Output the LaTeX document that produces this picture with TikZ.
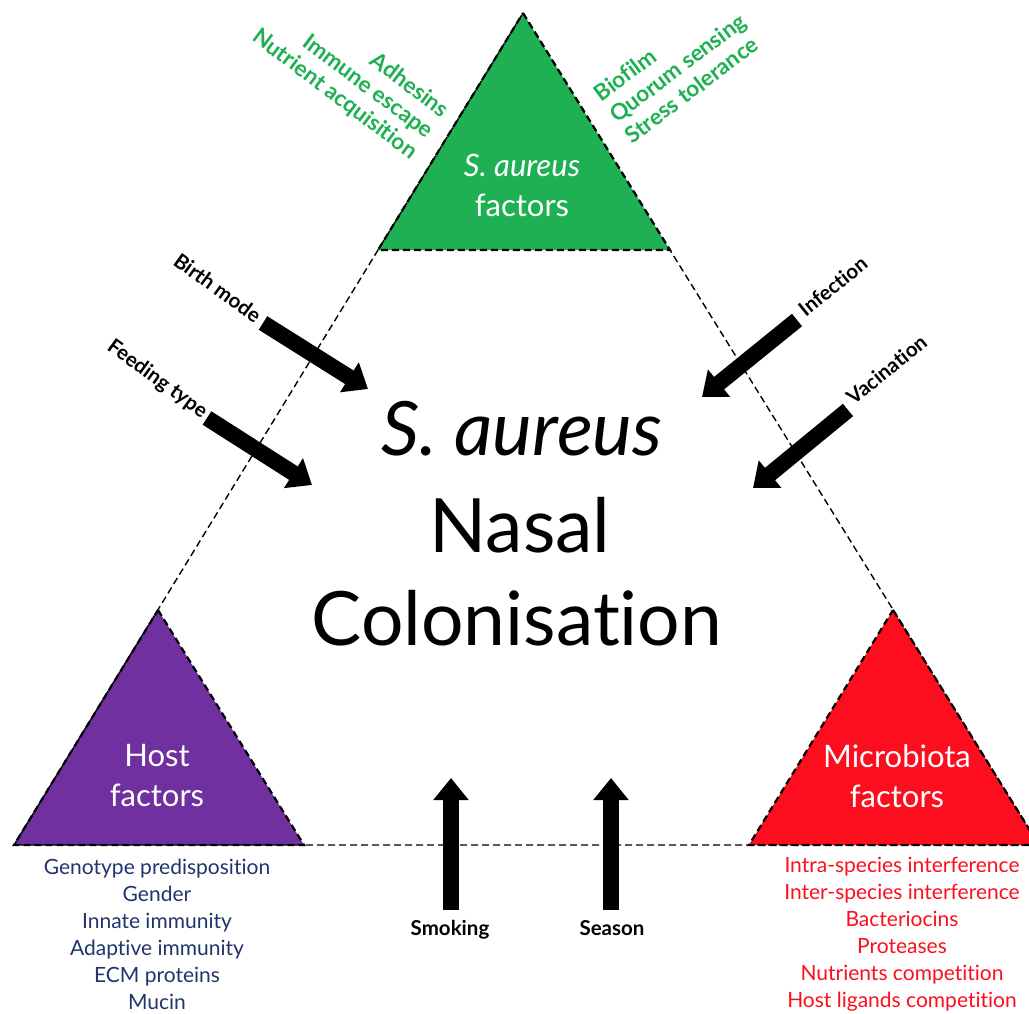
\documentclass[tikz,border=0pt]{standalone}
\usepackage{fontspec}
\setmainfont{Lato}[Ligatures={NoCommon,NoRare}]
\usetikzlibrary{arrows.meta}
\definecolor{saGreen}{RGB}{30,176,82}
\definecolor{hostPurple}{RGB}{112,48,160}
\definecolor{microRed}{RGB}{252,14,30}
\definecolor{hostNavy}{RGB}{32,52,110}

\begin{document}
\begin{tikzpicture}[
        x=1pt, y=-1pt,
        every node/.style={inner sep=0pt},
        border/.style={draw, line width=1.4pt, dash pattern=on 7pt off 4pt},
        corner/.style={draw, line width=2.2pt, dash pattern=on 7pt off 4pt},
        factor/.style={white, align=center, font=\fontsize{31}{40}\selectfont},
        itemlist/.style={align=center, font=\fontsize{21}{27}\selectfont},
        tilted/.style={saGreen, font=\bfseries\fontsize{22.5}{26}\selectfont},
        cue/.style={font=\bfseries\fontsize{20.5}{24}\selectfont},
        push/.style={line width=16pt, -{Triangle[width=34pt, length=22pt]}},
        title/.style={font=\fontsize{75}{95}\selectfont, anchor=base}
    ]
        \clip (0,0) rectangle (1029,1014);

        % Corners
        \coordinate (top) at (523,13);
        \coordinate (left) at (14,845);
        \coordinate (right) at (1039,845);
        \coordinate (g1) at (378,250);
        \coordinate (g2) at (670,250);
        \coordinate (p0) at (158,610);
        \coordinate (p2) at (304,845);
        \coordinate (r0) at (893,610);
        \coordinate (r1) at (749,845);

        % Triangles
        \fill[saGreen] (top) -- (g2) -- (g1) -- cycle;
        \fill[hostPurple] (p0) -- (p2) -- (left) -- cycle;
        \fill[microRed] (r0) -- (right) -- (r1) -- cycle;
        \draw[border] (top) -- (right) -- (left) -- cycle;
        \draw[corner] (top) -- (g2) -- (g1) -- cycle;
        \draw[corner] (p0) -- (p2) -- (left) -- cycle;
        \draw[corner] (r0) -- (right) -- (r1) -- cycle;

        % Nodes
        \node[title, font=\fontsize{75}{95}\selectfont\itshape] (title1) at (522,455) {S. aureus};
        \node[title] (title2) at (520,552) {Nasal};
        \node[title] (title3) at (517,645) {Colonisation};

        \node[factor] (saf) at (522,185) {\textit{S. aureus}\\factors};
        \node[factor] (host) at (157,776) {Host\\factors};
        \node[factor] (micro) at (897,776) {Microbiota\\factors};

        \node[itemlist, hostNavy] (hostlist) at (157,934) {Genotype predisposition\\Gender\\Innate immunity\\Adaptive immunity\\ECM proteins\\Mucin};
        \node[itemlist, microRed] (microlist) at (902,934) {Intra-species interference\\Inter-species interference\\Bacteriocins\\Proteases\\Nutrients competition\\Host ligands competition};

        \node[tilted, align=right, rotate=-37, anchor=east] (saleft) at (430,134) {Adhesins\\Immune escape\\Nutrient acquisition};
        \node[tilted, align=left, rotate=37, anchor=west] (saright) at (612,117) {Biofilm\\Quorum sensing\\Stress tolerance};

        % Arrows
        \coordinate (birth0) at (263,323);
        \coordinate (birth1) at (368,389);
        \coordinate (feed0) at (207,418);
        \coordinate (feed1) at (312,485);
        \coordinate (inf0) at (797,320);
        \coordinate (inf1) at (702,397);
        \coordinate (vac0) at (848,410);
        \coordinate (vac1) at (753,488);
        \coordinate (smoke0) at (451,910);
        \coordinate (smoke1) at (451,778);
        \coordinate (season0) at (611,910);
        \coordinate (season1) at (611,778);

        \draw[push] (birth0) -- (birth1);
        \draw[push] (feed0) -- (feed1);
        \draw[push] (inf0) -- (inf1);
        \draw[push] (vac0) -- (vac1);
        \draw[push] (smoke0) -- (smoke1);
        \draw[push] (season0) -- (season1);

        \node[cue, rotate=-36, anchor=east] (birth) at (259,318) {Birth mode};
        \node[cue, rotate=-36, anchor=east] (feed) at (205,414) {Feeding type};
        \node[cue, rotate=39, anchor=west] (inf) at (801,312) {Infection};
        \node[cue, rotate=39, anchor=west] (vac) at (849,400) {Vacination};
        \node[cue, anchor=base] (smoke) at (450,935) {Smoking};
        \node[cue, anchor=base] (season) at (612,935) {Season};
    \end{tikzpicture}
\end{document}
